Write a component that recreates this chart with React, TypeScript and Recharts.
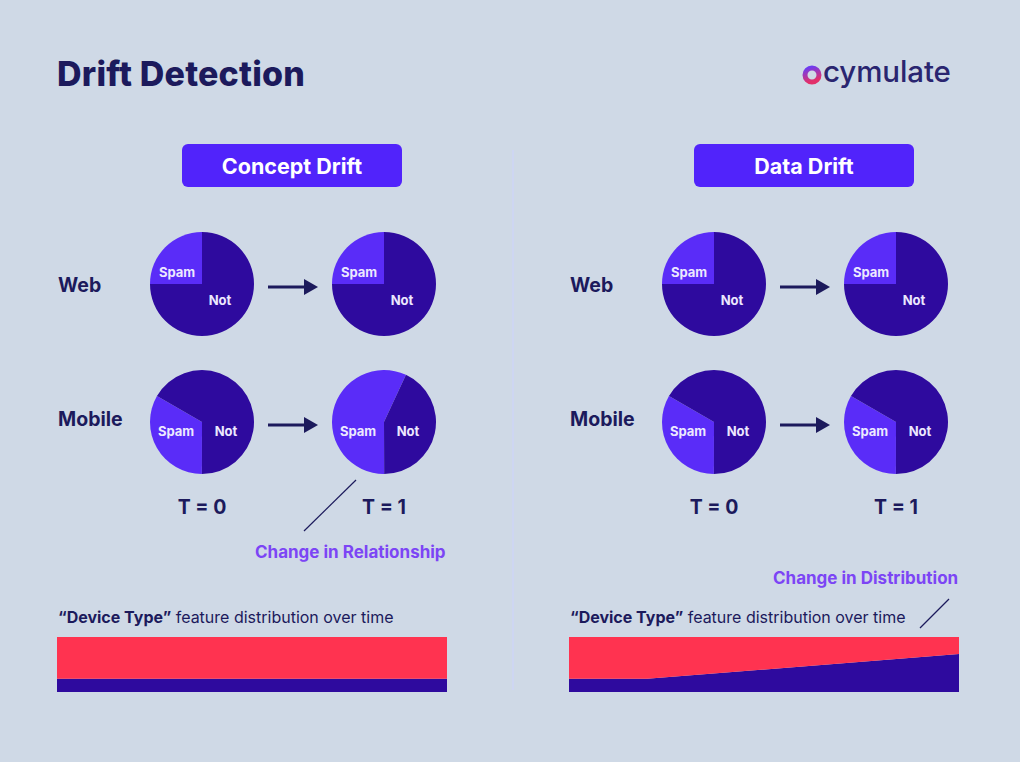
import React from "react";
import { PieChart, Pie, Cell, AreaChart, Area, XAxis, YAxis } from "recharts";

// spam share (%) for each pie, T=0 and T=1
const conceptWeb = [25, 25];
const conceptMobile = [33.3, 57];
const dataWeb = [25, 25];
const dataMobile = [33.3, 33.3];

// slice start angle for each pie (degrees, counter-clockwise from 3 o'clock)
const conceptWebStart = [90, 90];
const conceptMobileStart = [150, 65];
const dataWebStart = [90, 90];
const dataMobileStart = [150, 150];

const sliceNames = ["Spam", "Not"];
const timeLabels = ["T = 0", "T = 1"];

// "Device Type" share over time (dark share %, rest is red)
const conceptTime = [0, 100];
const conceptDevice = [24, 24];
const dataTime = [0, 20, 100];
const dataDevice = [24, 24, 69];

const BG = "#cfd9e6";
const NAVY = "#1c1a5c";
const SPAM = "#5a2cf8";
const NOT = "#2e0a9e";
const RED = "#ff3350";
const PURPLE = "#7c45f5";
const FONT = "Inter, 'Noto Sans', sans-serif";

const LABEL_POS: Record<string, Record<string, [number, number]>> = {
  web: { Spam: [-25, -12], Not: [18, 16] },
  mobile: { Spam: [-26, 9], Not: [24, 9] },
};

function Txt({ x, y, children, style }: { x: number; y: number; children: React.ReactNode; style?: React.CSSProperties }) {
  return (
    <div
      style={{
        position: "absolute",
        left: x,
        top: y,
        transform: "translateY(-50%)",
        whiteSpace: "nowrap",
        fontFamily: FONT,
        color: NAVY,
        lineHeight: 1,
        ...style,
      }}
    >
      {children}
    </div>
  );
}

function SpamPie({ cx, cy, spam, start, kind }: { cx: number; cy: number; spam: number; start: number; kind: string }) {
  const data = [
    { name: sliceNames[0], value: spam },
    { name: sliceNames[1], value: 100 - spam },
  ];
  const pos = LABEL_POS[kind];
  const renderLabel = (p: any) => {
    const [dx, dy] = pos[p.name];
    const ox = typeof p.cx === "number" ? p.cx : 56;
    const oy = typeof p.cy === "number" ? p.cy : 56;
    return (
      <text
        x={ox + dx}
        y={oy + dy}
        textAnchor="middle"
        dominantBaseline="central"
        fill="#ece8ff"
        fontSize={13}
        fontWeight={700}
        fontFamily={FONT}
      >
        {p.name}
      </text>
    );
  };
  return (
    <div style={{ position: "absolute", left: cx - 56, top: cy - 56 }}>
      <PieChart width={112} height={112} margin={{ top: 0, right: 0, bottom: 0, left: 0 }}>
        <Pie
          data={data}
          dataKey="value"
          nameKey="name"
          cx={56}
          cy={56}
          outerRadius={52}
          startAngle={start}
          endAngle={start + 360}
          stroke="none"
          label={renderLabel}
          labelLine={false}
          isAnimationActive={false}
        >
          {data.map((d, i) => (
            <Cell key={d.name} fill={i === 0 ? SPAM : NOT} />
          ))}
        </Pie>
      </PieChart>
    </div>
  );
}

function Arrow({ x1, x2, y }: { x1: number; x2: number; y: number }) {
  return (
    <svg style={{ position: "absolute", left: x1, top: y - 9 }} width={x2 - x1} height={18}>
      <line x1={0} y1={9} x2={x2 - x1 - 12} y2={9} stroke={NAVY} strokeWidth={3} />
      <polygon points={`${x2 - x1 - 14},1 ${x2 - x1},9 ${x2 - x1 - 14},17`} fill={NAVY} />
    </svg>
  );
}

function DeviceBar({ x, y, times, dark }: { x: number; y: number; times: number[]; dark: number[] }) {
  const data = times.map((t, i) => ({ t, dark: dark[i], red: 100 - dark[i] }));
  return (
    <div style={{ position: "absolute", left: x, top: y }}>
      <AreaChart width={390} height={55} data={data} margin={{ top: 0, right: 0, bottom: 0, left: 0 }}>
        <XAxis dataKey="t" type="number" domain={[0, 100]} hide />
        <YAxis type="number" domain={[0, 100]} hide />
        <Area type="linear" dataKey="dark" stackId="a" stroke="none" fill={NOT} fillOpacity={1} isAnimationActive={false} />
        <Area type="linear" dataKey="red" stackId="a" stroke="none" fill={RED} fillOpacity={1} isAnimationActive={false} />
      </AreaChart>
    </div>
  );
}

function Panel({
  ox,
  title,
  web,
  webStart,
  mobile,
  mobileStart,
  times,
  device,
}: {
  ox: number;
  title: string;
  web: number[];
  webStart: number[];
  mobile: number[];
  mobileStart: number[];
  times: number[];
  device: number[];
}) {
  const c0 = ox + 145;
  const c1 = ox + 327;
  return (
    <>
      <div
        style={{
          position: "absolute",
          left: ox + 125,
          top: 144,
          width: 220,
          height: 43,
          background: "#5123fb",
          borderRadius: 6,
          color: "#fff",
          fontFamily: FONT,
          fontWeight: 700,
          fontSize: 21.5,
          display: "flex",
          alignItems: "center",
          justifyContent: "center",
        }}
      >
        {title}
      </div>
      <Txt x={ox + 1} y={286} style={{ fontSize: 19.5, fontWeight: 700 }}>Web</Txt>
      <Txt x={ox + 1} y={420} style={{ fontSize: 19.5, fontWeight: 700 }}>Mobile</Txt>
      <SpamPie cx={c0} cy={284} spam={web[0]} start={webStart[0]} kind="web" />
      <SpamPie cx={c1} cy={284} spam={web[1]} start={webStart[1]} kind="web" />
      <SpamPie cx={c0} cy={422} spam={mobile[0]} start={mobileStart[0]} kind="mobile" />
      <SpamPie cx={c1} cy={422} spam={mobile[1]} start={mobileStart[1]} kind="mobile" />
      <Arrow x1={ox + 211} x2={ox + 261} y={287} />
      <Arrow x1={ox + 211} x2={ox + 261} y={425} />
      {timeLabels.map((t, i) => (
        <Txt key={t} x={(i === 0 ? c0 : c1) - 40} y={508} style={{ width: 80, textAlign: "center", fontSize: 19.5, fontWeight: 700 }}>
          {t}
        </Txt>
      ))}
      <Txt x={ox + 1} y={617} style={{ fontSize: 16 }}>
        <b>“Device Type”</b> feature distribution over time
      </Txt>
      <DeviceBar x={ox} y={637} times={times} dark={device} />
    </>
  );
}

export default function App() {
  return (
    <div style={{ position: "absolute", left: 0, top: 0, width: 1020, height: 762, background: BG, overflow: "hidden" }}>
      <Txt x={57} y={74} style={{ fontSize: 34, fontWeight: 800, letterSpacing: 0.2 }}>Drift Detection</Txt>

      {/* logo */}
      <svg style={{ position: "absolute", left: 800, top: 62 }} width={26} height={26}>
        <defs>
          <linearGradient id="ring" x1="0" y1="0" x2="0.3" y2="1">
            <stop offset="0%" stopColor="#6a3cf5" />
            <stop offset="100%" stopColor="#e2306a" />
          </linearGradient>
        </defs>
        <circle cx={12} cy={13} r={7} fill="none" stroke="url(#ring)" strokeWidth={5} />
      </svg>
      <Txt x={823} y={72} style={{ fontSize: 29.5, fontWeight: 500, color: "#2a2570", letterSpacing: -0.1 }}>cymulate</Txt>

      {/* divider */}
      <div style={{ position: "absolute", left: 512, top: 150, width: 2, height: 540, background: "rgba(205,212,245,0.8)" }} />

      <Panel
        ox={57}
        title="Concept Drift"
        web={conceptWeb}
        webStart={conceptWebStart}
        mobile={conceptMobile}
        mobileStart={conceptMobileStart}
        times={conceptTime}
        device={conceptDevice}
      />
      <Panel
        ox={569}
        title="Data Drift"
        web={dataWeb}
        webStart={dataWebStart}
        mobile={dataMobile}
        mobileStart={dataMobileStart}
        times={dataTime}
        device={dataDevice}
      />

      {/* annotations */}
      <svg style={{ position: "absolute", left: 0, top: 0 }} width={1020} height={762}>
        <line x1={304} y1={531} x2={356} y2={480} stroke={NAVY} strokeWidth={1.2} />
        <line x1={920} y1={628} x2={949} y2={599} stroke={NAVY} strokeWidth={1.2} />
      </svg>
      <Txt x={255} y={552} style={{ fontSize: 17, fontWeight: 700, color: PURPLE }}>Change in Relationship</Txt>
      <Txt x={773} y={578} style={{ fontSize: 17, fontWeight: 700, color: PURPLE }}>Change in Distribution</Txt>
    </div>
  );
}
